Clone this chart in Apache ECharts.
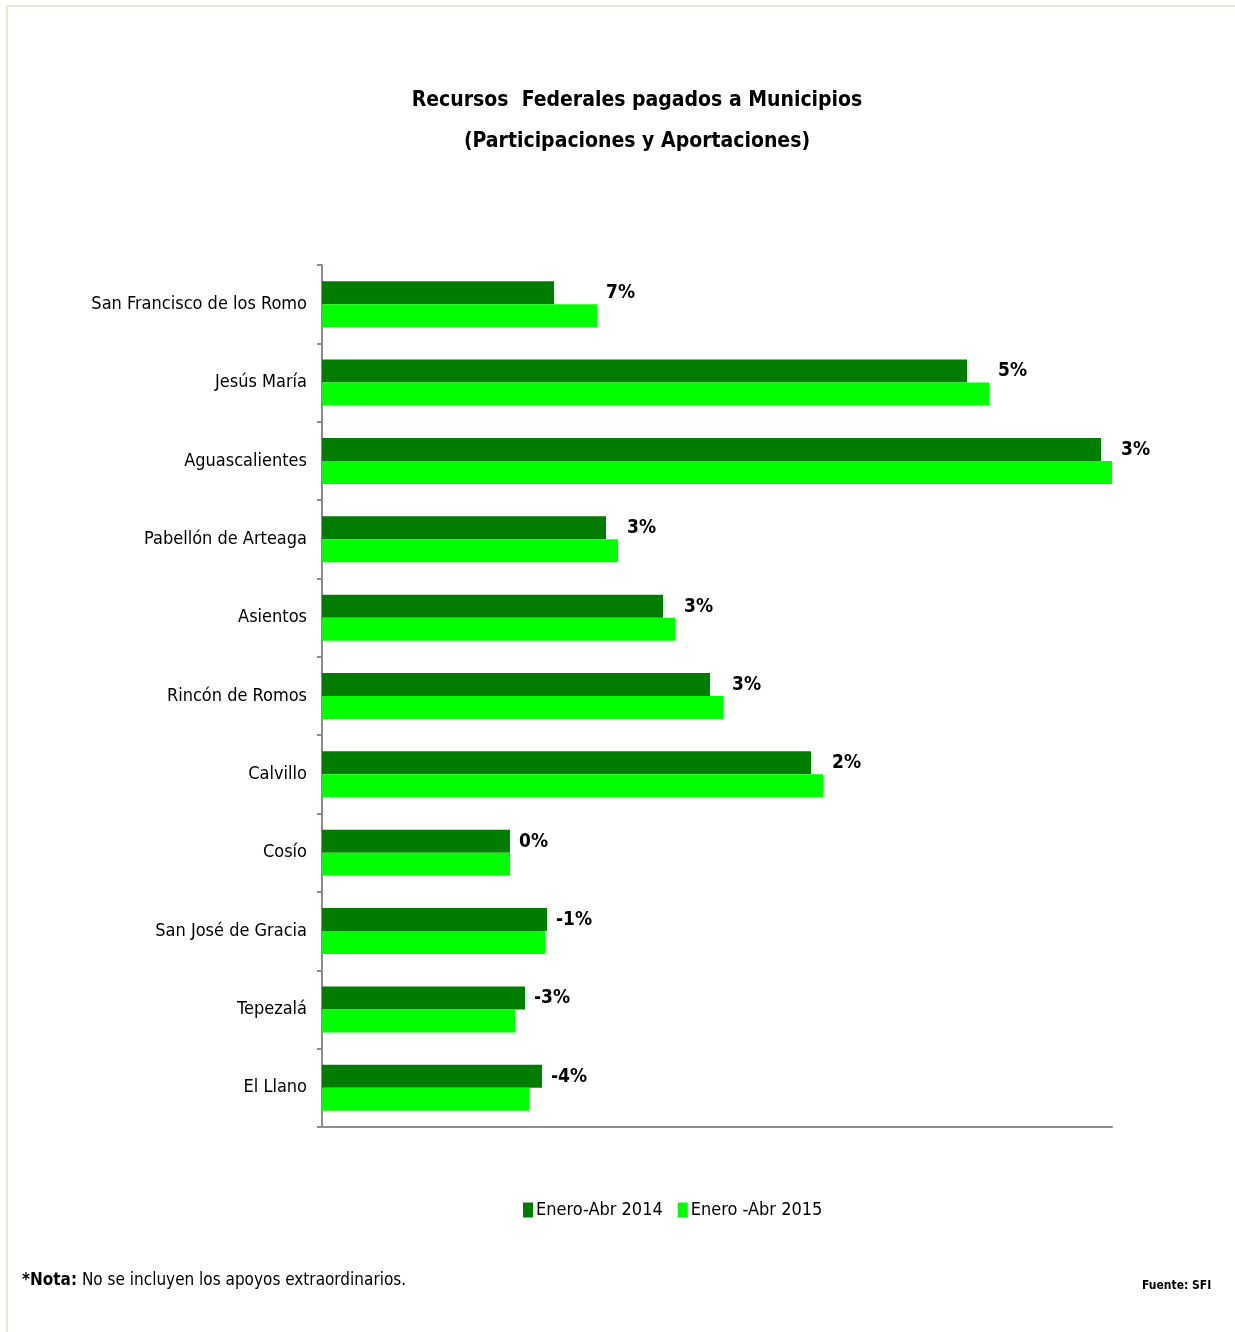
<!DOCTYPE html>
<html>
<head>
<meta charset="utf-8">
<script src="https://cdn.jsdelivr.net/npm/echarts@6/dist/echarts.min.js"></script>
<style>
  html, body { margin: 0; padding: 0; background: #fff; }
  #chart { width: 1235px; height: 1332px; }
</style>
</head>
<body>
<div id="chart"></div>
<script>
const FONT = "'DejaVu Sans Condensed', 'Liberation Sans Narrow', sans-serif";

// municipios, top to bottom
const municipios = [
  'San Francisco de los Romo', 'Jesús María', 'Aguascalientes', 'Pabellón de Arteaga',
  'Asientos', 'Rincón de Romos', 'Calvillo', 'Cosío', 'San José de Gracia', 'Tepezalá', 'El Llano'
];
// bar lengths (relative units)
const abr2014 = [232, 645, 779, 284, 341, 388, 489, 188, 225, 203, 220];
const abr2015 = [275, 667, 790, 296, 353, 401, 501, 188, 223, 193, 207];
const variacion = ['7%', '5%', '3%', '3%', '3%', '3%', '2%', '0%', '-1%', '-3%', '-4%'];

// label sits right of the longer bar of each pair
const labelPos = municipios.map((m, i) => ({
  value: [Math.max(abr2014[i], abr2015[i]), m],
  label: { formatter: variacion[i] }
}));

const chart = echarts.init(document.getElementById('chart'));
chart.setOption({
  animation: false,
  title: {
    text: 'Recursos  Federales pagados a Municipios\n(Participaciones y Aportaciones)',
    left: 632, top: 75, textAlign: 'center',
    textStyle: { fontFamily: FONT, fontSize: 21, fontWeight: 'bold', color: '#000', lineHeight: 41 }
  },
  legend: {
    data: ['Enero-Abr 2014', 'Enero -Abr 2015'],
    left: 518, top: 1196,
    itemWidth: 10, itemHeight: 15, itemGap: 15,
    icon: 'rect',
    textStyle: { fontFamily: FONT, fontSize: 18, color: '#000', padding: [0, 0, 0, -2] }
  },
  grid: { left: 322, top: 265, right: 123, bottom: 205, containLabel: false },
  xAxis: {
    type: 'value', min: 0, max: 790,
    axisLine: { show: true, lineStyle: { color: '#8c8c8c', width: 2 } },
    axisTick: { show: false }, axisLabel: { show: false }, splitLine: { show: false }
  },
  yAxis: {
    type: 'category', data: municipios, inverse: true,
    axisLine: { lineStyle: { color: '#8c8c8c', width: 2 } },
    axisTick: { show: true, length: 5, lineStyle: { color: '#8c8c8c', width: 2 } },
    axisLabel: { fontFamily: FONT, fontSize: 18, color: '#000', margin: 15 }
  },
  series: [
    {
      name: 'Enero-Abr 2014', type: 'bar', data: abr2014,
      barWidth: 23, barGap: '0%', itemStyle: { color: '#007c00' }
    },
    {
      name: 'Enero -Abr 2015', type: 'bar', data: abr2015,
      barWidth: 23, barGap: '0%', itemStyle: { color: '#00ff00' }
    },
    {
      type: 'scatter', data: labelPos, symbolSize: 0, silent: true,
      itemStyle: { opacity: 1 },
      label: {
        show: true, position: 'right', distance: 9, offset: [0, -11],
        fontFamily: FONT, fontSize: 19, fontWeight: 'bold', color: '#000', opacity: 1
      }
    }
  ],
  graphic: [
    {
      type: 'rect', silent: true,
      shape: { x: 7, y: 6, width: 1260, height: 1360 },
      style: { fill: 'none', stroke: '#e3ebd2', lineWidth: 2 }
    },
    {
      type: 'text', left: 22, top: 1272,
      style: {
        text: '{b|*Nota:} No se incluyen los apoyos extraordinarios.',
        font: '17px ' + FONT, fill: '#000',
        rich: { b: { fontFamily: FONT, fontSize: 17, fontWeight: 'bold', fill: '#000' } }
      }
    },
    {
      type: 'text', left: 1142, top: 1280,
      style: { text: 'Fuente: SFI', font: 'bold 12px ' + FONT, fill: '#000' }
    }
  ]
});
</script>
</body>
</html>
